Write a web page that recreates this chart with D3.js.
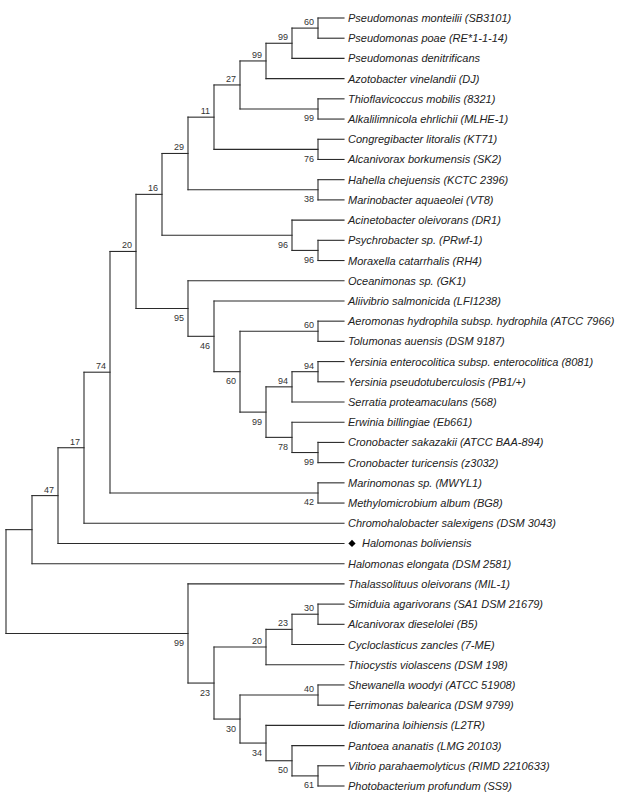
<!DOCTYPE html>
<html>
<head>
<meta charset="utf-8">
<script src="https://cdn.jsdelivr.net/npm/d3@7"></script>
<style>
  html, body { margin: 0; padding: 0; background: #fff; }
  svg { display: block; }
</style>
</head>
<body>
<svg id="chart" width="619" height="800"></svg>
<script>
// Taxa (leaf order, top to bottom)
const taxa = [
  "Pseudomonas monteilii (SB3101)",
  "Pseudomonas poae (RE*1-1-14)",
  "Pseudomonas denitrificans",
  "Azotobacter vinelandii (DJ)",
  "Thioflavicoccus mobilis (8321)",
  "Alkalilimnicola ehrlichii (MLHE-1)",
  "Congregibacter litoralis (KT71)",
  "Alcanivorax borkumensis (SK2)",
  "Hahella chejuensis (KCTC 2396)",
  "Marinobacter aquaeolei (VT8)",
  "Acinetobacter oleivorans (DR1)",
  "Psychrobacter sp. (PRwf-1)",
  "Moraxella catarrhalis (RH4)",
  "Oceanimonas sp. (GK1)",
  "Aliivibrio salmonicida (LFI1238)",
  "Aeromonas hydrophila subsp. hydrophila (ATCC 7966)",
  "Tolumonas auensis (DSM 9187)",
  "Yersinia enterocolitica subsp. enterocolitica (8081)",
  "Yersinia pseudotuberculosis (PB1/+)",
  "Serratia proteamaculans (568)",
  "Erwinia billingiae (Eb661)",
  "Cronobacter sakazakii (ATCC BAA-894)",
  "Cronobacter turicensis (z3032)",
  "Marinomonas sp. (MWYL1)",
  "Methylomicrobium album (BG8)",
  "Chromohalobacter salexigens (DSM 3043)",
  "Halomonas boliviensis",
  "Halomonas elongata (DSM 2581)",
  "Thalassolituus oleivorans (MIL-1)",
  "Simiduia agarivorans (SA1 DSM 21679)",
  "Alcanivorax dieselolei (B5)",
  "Cycloclasticus zancles (7-ME)",
  "Thiocystis violascens (DSM 198)",
  "Shewanella woodyi (ATCC 51908)",
  "Ferrimonas balearica (DSM 9799)",
  "Idiomarina loihiensis (L2TR)",
  "Pantoea ananatis (LMG 20103)",
  "Vibrio parahaemolyticus (RIMD 2210633)",
  "Photobacterium profundum (SS9)"
];

// Highlighted taxon (marked with a diamond)
const highlighted = ["Halomonas boliviensis"];

// Topology: n(bootstrap, child, child); numbers are indices into taxa
const n = (b, ...kids) => ({ b, children: kids.map(k => typeof k === "number" ? { leaf: k } : k) });

const tree =
n(null,
  n(null,
    n(47,
      n(17,
        n(74,
          n(20,
            n(16,
              n(29,
                n(11,
                  n(27,
                    n(99, n(99, n(60, 0, 1), 2), 3),
                    n(99, 4, 5)),
                  n(76, 6, 7)),
                n(38, 8, 9)),
              n(96, 10, n(96, 11, 12))),
            n(95, 13,
              n(46, 14,
                n(60,
                  n(60, 15, 16),
                  n(99,
                    n(94, n(94, 17, 18), 19),
                    n(78, 20, n(99, 21, 22))))))),
          n(42, 23, 24)),
        25),
      26),
    27),
  n(99, 28,
    n(23,
      n(20, n(23, n(30, 29, 30), 31), 32),
      n(30, n(40, 33, 34), n(34, 35, n(50, 36, n(61, 37, 38)))))));

const svg = d3.select("#chart");
const root = d3.hierarchy(tree, d => d.children);

const x = d3.scaleLinear().domain([root.height, 0]).range([6, 344]);
const y = d3.scaleLinear().domain([0, taxa.length - 1]).range([18, 786]);

// positions
root.eachAfter(d => {
  d.px = x(d.height);
  if (!d.children) d.py = y(d.data.leaf);
  else d.py = (d.children[0].py + d.children[d.children.length - 1].py) / 2;
});

const g = svg.append("g");
const lineColor = "#2b2b2b";

// vertical connectors
g.selectAll("line.v")
  .data(root.descendants().filter(d => d.children))
  .join("line")
  .attr("x1", d => d.px).attr("x2", d => d.px)
  .attr("y1", d => d.children[0].py)
  .attr("y2", d => d.children[d.children.length - 1].py)
  .attr("stroke", lineColor).attr("stroke-width", 1.1)
  .attr("stroke-linecap", "square");

// horizontal branches
g.selectAll("line.h")
  .data(root.descendants().filter(d => d.parent))
  .join("line")
  .attr("x1", d => d.parent.px).attr("x2", d => d.px)
  .attr("y1", d => d.py).attr("y2", d => d.py)
  .attr("stroke", lineColor).attr("stroke-width", 1.1)
  .attr("stroke-linecap", "square");

// bootstrap labels
g.selectAll("text.boot")
  .data(root.descendants().filter(d => d.parent && d.children && d.data.b != null))
  .join("text")
  .attr("x", d => d.px - 4)
  .attr("y", d => d.parent.children[0] === d ? d.py - 3 : d.py + 12.5)
  .attr("text-anchor", "end")
  .attr("font-family", "'Liberation Sans', Arial, Helvetica, sans-serif")
  .attr("font-size", 9)
  .attr("fill", "#333")
  .text(d => d.data.b);

// leaf labels
const leaves = root.leaves();
g.selectAll("path.mark")
  .data(leaves.filter(d => highlighted.includes(taxa[d.data.leaf])))
  .join("path")
  .attr("d", d3.symbol(d3.symbolSquare, 26)())
  .attr("transform", d => `translate(${d.px + 8},${d.py}) rotate(45)`)
  .attr("fill", "#000");

g.selectAll("text.leaf")
  .data(leaves)
  .join("text")
  .attr("x", d => highlighted.includes(taxa[d.data.leaf]) ? d.px + 18 : d.px + 4)
  .attr("y", d => d.py + 4)
  .attr("font-family", "'Liberation Sans', Arial, Helvetica, sans-serif")
  .attr("font-style", "italic")
  .attr("font-size", 11)
  .attr("fill", "#222")
  .text(d => taxa[d.data.leaf]);
</script>
</body>
</html>
